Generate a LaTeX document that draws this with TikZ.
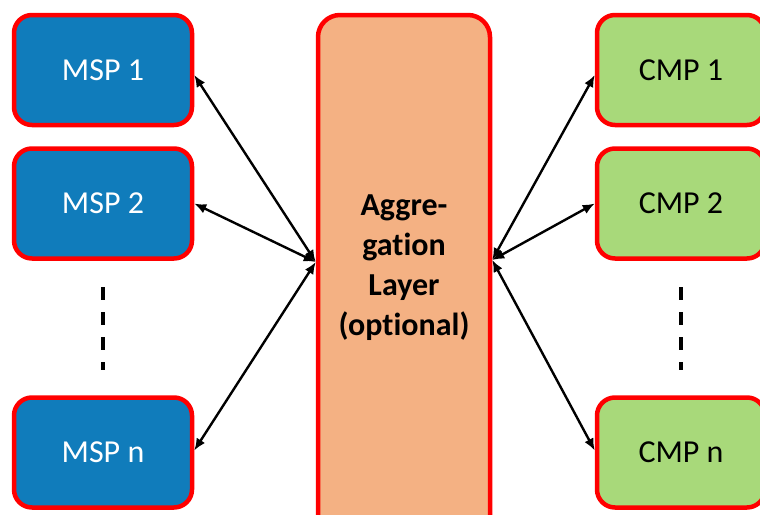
\documentclass[tikz,border=0pt]{standalone}
\usepackage{fontspec}
\setmainfont{Carlito}[RawFeature={-liga;-clig;-calt;-dlig}]
\usetikzlibrary{arrows.meta}

\definecolor{mspblue}{RGB}{16,124,187}
\definecolor{cmpgreen}{RGB}{168,217,122}
\definecolor{aggorange}{RGB}{244,177,131}

\tikzstyle{box}=[draw=red, line width=4.5pt, rounded corners=18pt, inner sep=0pt,
  minimum height=110pt, font=\fontsize{32}{38}\selectfont]
\tikzstyle{msp}=[box, fill=mspblue, text=white, minimum width=178pt]
\tikzstyle{cmp}=[box, fill=cmpgreen, text=black, minimum width=168pt]
\tikzstyle{layer}=[draw=red, line width=4.5pt, rounded corners=22pt, fill=aggorange,
  minimum width=172pt, minimum height=530pt]
\tikzstyle{layertext}=[align=center, font=\fontsize{32}{40}\selectfont\bfseries]
\tikzstyle{arrow}=[line width=2.4pt, {Latex[length=12pt,width=10pt]}-{Latex[length=12pt,width=10pt]}]
\tikzstyle{gap}=[line width=4pt, dash pattern=on 13pt off 12pt]

\begin{document}
\begin{tikzpicture}[x=1pt, y=-1pt]
      \useasboundingbox (0,0) rectangle (760,514);
      \clip (0,0) rectangle (760,514);

      \node[layer] (agg) at (404, 280) {};
      \node[layertext] (aggtext) at (404, 268) {Aggre-\\gat{}ion\\Layer\\(optional)};

      \node[msp] (msp1) at (103, 70) {MSP 1};
      \node[msp] (msp2) at (103, 203.5) {MSP 2};
      \node[msp] (mspn) at (103, 452.5) {MSP n};

      \node[cmp] (cmp1) at (681, 70) {CMP 1};
      \node[cmp] (cmp2) at (681, 203.5) {CMP 2};
      \node[cmp] (cmpn) at (681, 452.5) {CMP n};

      \coordinate (ltop) at (103, 287);
      \coordinate (lbot) at (103, 370);
      \coordinate (rtop) at (681, 287);
      \coordinate (rbot) at (681, 370);

      \draw[arrow] ([yshift=-5pt]msp1.east) to ([yshift=18pt]agg.west);
      \draw[arrow] (msp2.east) to ([yshift=18pt]agg.west);
      \draw[arrow] ([yshift=2pt]mspn.east) to ([yshift=18pt]agg.west);
      \draw[arrow] ([yshift=20pt]agg.east) to ([yshift=-5pt]cmp1.west);
      \draw[arrow] ([yshift=20pt]agg.east) to (cmp2.west);
      \draw[arrow] ([yshift=20pt]agg.east) to ([yshift=2pt]cmpn.west);

      \draw[gap] (ltop) -- (lbot);
      \draw[gap] (rtop) -- (rbot);
    \end{tikzpicture}
\end{document}
